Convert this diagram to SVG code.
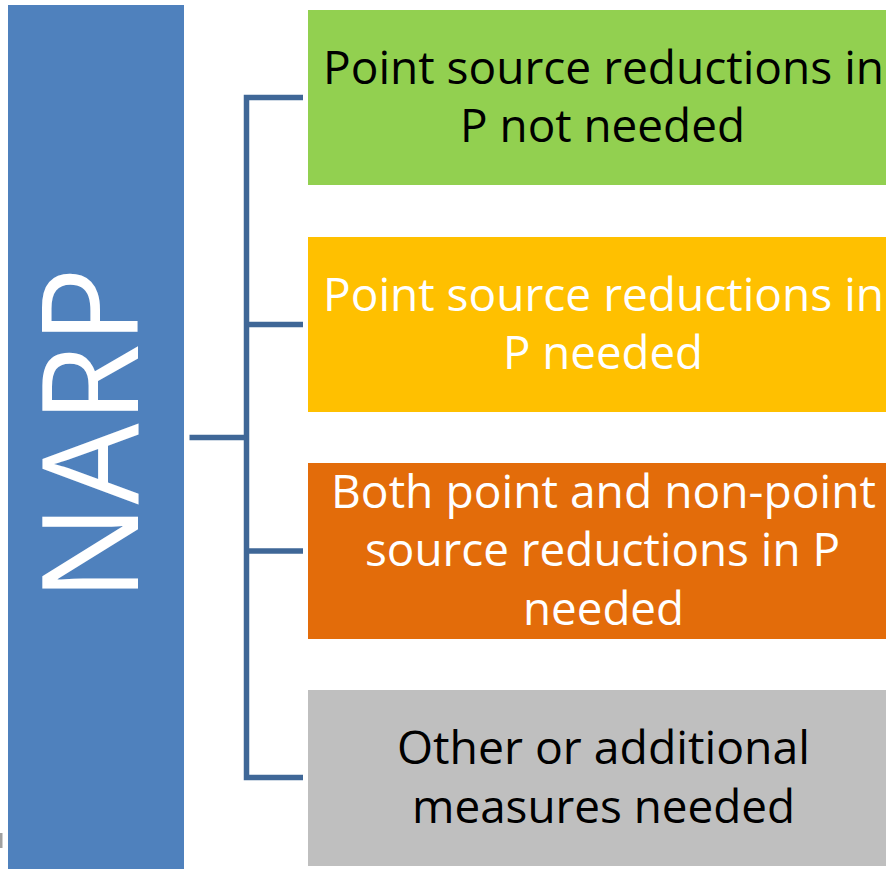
<svg xmlns="http://www.w3.org/2000/svg" width="886" height="869" viewBox="0 0 886 869">
<style>
.t{font-family:"Open Sans","Liberation Sans",sans-serif;font-size:46px;text-anchor:middle}
.dk{fill:#000}
.lt{fill:#fff}
.conn{fill:none;stroke:#3F6797;stroke-width:5.5;stroke-linecap:butt;stroke-linejoin:miter}
</style>
<rect x="0" y="0" width="886" height="869" fill="#fff"/>
<rect x="0" y="833" width="2.5" height="15" fill="#A0A0A0"/>
<g id="narp">
<rect x="8" y="5" width="176" height="870" fill="#4F81BD"/>
<text transform="translate(138,434) rotate(-90)" x="0" y="0" font-family="Open Sans, Liberation Sans, sans-serif" font-size="133" fill="#fff" text-anchor="middle" textLength="334" lengthAdjust="spacingAndGlyphs">NARP</text>
</g>
<g id="connectors">
<path class="conn" d="M303 97.5 H246.5 V777.5 H303"/>
<path class="conn" d="M189.5 437.5 H246.5"/>
<path class="conn" d="M246.5 324.5 H303"/>
<path class="conn" d="M246.5 551 H303"/>
</g>
<g id="box1">
<rect x="308" y="10" width="590" height="175" fill="#92D050"/>
<text class="t dk" x="603.5" y="83.5" textLength="561" lengthAdjust="spacingAndGlyphs">Point source reductions in</text>
<text class="t dk" x="602.5" y="142" textLength="285" lengthAdjust="spacingAndGlyphs">P not needed</text>
</g>
<g id="box2">
<rect x="308" y="237" width="590" height="175" fill="#FFC000"/>
<text class="t lt" x="603.5" y="310.5" textLength="561" lengthAdjust="spacingAndGlyphs">Point source reductions in</text>
<text class="t lt" x="603" y="369" textLength="200" lengthAdjust="spacingAndGlyphs">P needed</text>
</g>
<g id="box3">
<rect x="308" y="463" width="590" height="176" fill="#E36C0A"/>
<text class="t lt" x="603.5" y="507.5" textLength="545" lengthAdjust="spacingAndGlyphs">Both point and non-point</text>
<text class="t lt" x="602.5" y="566" textLength="475" lengthAdjust="spacingAndGlyphs">source reductions in P</text>
<text class="t lt" x="603.5" y="624.5" textLength="161" lengthAdjust="spacingAndGlyphs">needed</text>
</g>
<g id="box4">
<rect x="308" y="690" width="590" height="176" fill="#BFBFBF"/>
<text class="t dk" x="603.5" y="764" textLength="413" lengthAdjust="spacingAndGlyphs">Other or additional</text>
<text class="t dk" x="603.5" y="822.5" textLength="383" lengthAdjust="spacingAndGlyphs">measures needed</text>
</g>
</svg>
